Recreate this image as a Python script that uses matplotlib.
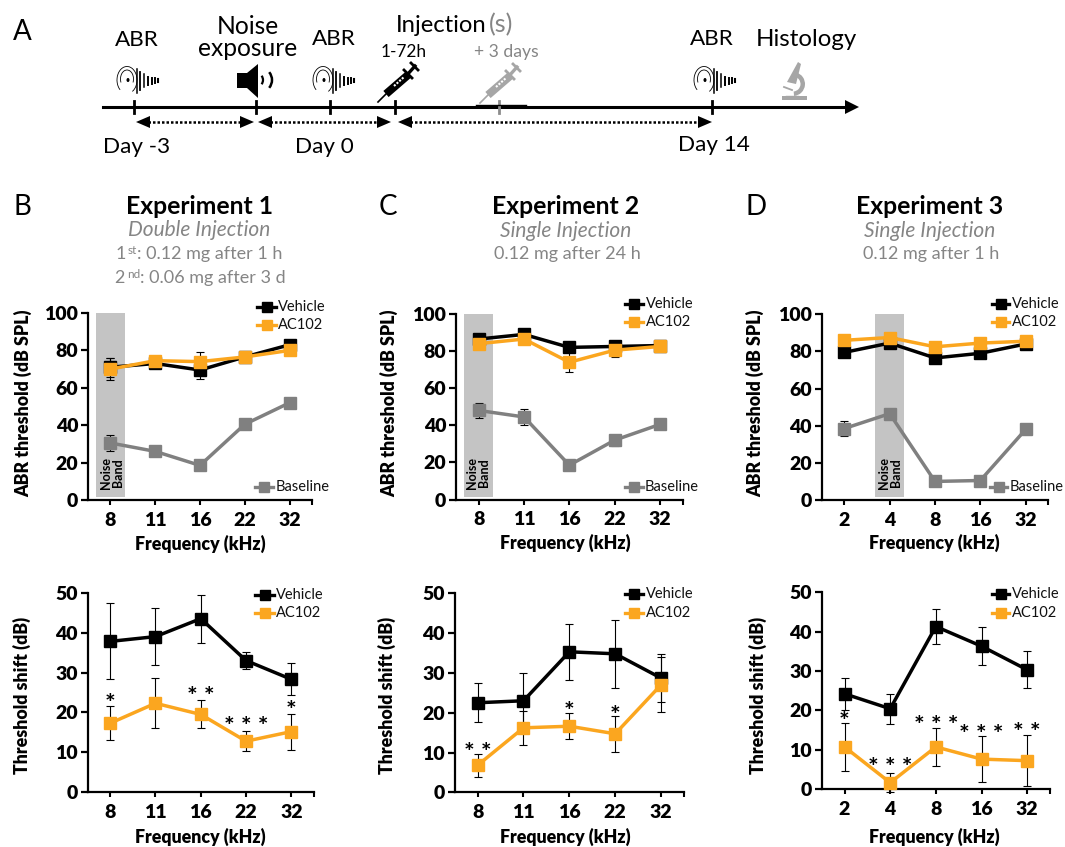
import matplotlib
matplotlib.use("Agg")
import matplotlib.pyplot as plt
from matplotlib.patches import Polygon, Rectangle, Arc, Wedge, Ellipse
from matplotlib.lines import Line2D

plt.rcParams['font.family'] = ['Lato', 'DejaVu Sans']

W, H = 1065, 847
BLACK, ORANGE, GRAY = '#000000', '#FBA61F', '#808080'
TXT_GRAY = '#858585'
HEAVY = 'heavy'

# ------- data -------
freq_a = ['8', '11', '16', '22', '32']
freq_d = ['2', '4', '8', '16', '32']

b_top_vehicle = [71, 73, 69.5, 76.5, 83]
b_top_vehicle_err = [5, 2.5, 5, 1.5, 1.5]
b_top_ac102 = [70, 74.5, 74, 76.5, 80]
b_top_ac102_err = [6, 2.5, 5, 1.5, 1.5]
b_top_base = [30.5, 26, 18.5, 40.5, 52]
b_top_base_err = [4.5, 1.5, 1, 1.5, 2]

c_top_vehicle = [86.5, 89, 82, 82.5, 83]
c_top_vehicle_err = [2, 2, 2.5, 2.5, 1.5]
c_top_ac102 = [84, 86.5, 74, 80.5, 82.5]
c_top_ac102_err = [2.5, 2, 5.5, 3.5, 2]
c_top_base = [48, 44.5, 18.5, 32, 40.5]
c_top_base_err = [4, 4.3, 1, 3, 2]

d_top_vehicle = [79.5, 84.5, 76.5, 79, 84]
d_top_vehicle_err = [2, 1.5, 1.5, 1.5, 1.5]
d_top_ac102 = [86, 87.5, 82.5, 84.5, 85.5]
d_top_ac102_err = [1.5, 1.5, 1.5, 2, 1.5]
d_top_base = [38.5, 46.5, 10, 10.5, 38]
d_top_base_err = [4, 1, 1, 1, 1.5]

b_bot_vehicle = [37.8, 39, 43.5, 33, 28.3]
b_bot_vehicle_err = [9.5, 7.2, 6, 2.1, 4]
b_bot_ac102 = [17.3, 22.3, 19.5, 12.8, 15.2]
b_bot_ac102_err = [4.3, 6.3, 3.5, 2.5, 4.5]
b_stars = [('*', 0, 23.7), ('* *', 2, 25.5), ('* * *', 3, 17.9), ('*', 4, 21.9)]

c_bot_vehicle = [22.5, 23, 35.3, 34.8, 28.7]
c_bot_vehicle_err = [4.9, 7, 7, 8.5, 6.1]
c_bot_ac102 = [6.8, 16.2, 16.6, 14.7, 27]
c_bot_ac102_err = [2.9, 4.2, 3.2, 4.5, 6.9]
c_stars = [('* *', 0, 11.5), ('*', 2, 21.9), ('*', 3, 20.9)]

d_bot_vehicle = [24.2, 20.4, 41.3, 36.3, 30.3]
d_bot_vehicle_err = [4, 3.8, 4.4, 4.8, 4.7]
d_bot_ac102 = [10.7, 1.6, 10.7, 7.6, 7.2]
d_bot_ac102_err = [6.1, 2.4, 4.8, 5.9, 6.4]
d_stars = [('*', 0, 18.6), ('* * *', 1, 7.1), ('* * *', 2, 17.8), ('* * *', 3, 15.5), ('* *', 4, 16)]

fig = plt.figure(figsize=(W / 100, H / 100), dpi=100)

# overlay in pixel coordinates
ov = fig.add_axes([0, 0, 1, 1], zorder=5)
ov.set_xlim(0, W)
ov.set_ylim(H, 0)
ov.axis('off')
ov.patch.set_alpha(0)


def T(x, y, s, size=15, color='black', ha='center', **kw):
    ov.text(x, y, s, fontsize=size, color=color, ha=ha, va='center', **kw)


def panel(left, right, top, bottom, cats, ymax, yticks, series, ylabel, yl_px, xl_px,
          band=None, stars=None):
    ax = fig.add_axes([left / W, 1 - bottom / H, (right - left) / W, (bottom - top) / H])
    ax.set_xlim(-0.5, 4.5)
    ax.set_ylim(0, ymax)
    for s in ('top', 'right'):
        ax.spines[s].set_visible(False)
    for s in ('left', 'bottom'):
        ax.spines[s].set_linewidth(1.6)
    ax.set_xticks(range(5))
    ax.set_xticklabels(cats, fontsize=14, fontweight=HEAVY)
    ax.set_xticks([4.5], minor=True)
    ax.set_yticks(yticks)
    ax.set_yticklabels([str(v) for v in yticks], fontsize=14, fontweight=HEAVY)
    ax.tick_params(axis='x', which='both', length=3.5, width=1.5, pad=5)
    ax.tick_params(axis='y', length=5, width=1.6, pad=2)
    ax.set_ylabel(ylabel, fontsize=12.8, fontweight=HEAVY)
    ax.set_xlabel('Frequency (kHz)', fontsize=12.8, fontweight=HEAVY)
    ax.yaxis.set_label_coords((yl_px[0] - left) / (right - left), (bottom - yl_px[1]) / (bottom - top))
    ax.xaxis.set_label_coords((xl_px[0] - left) / (right - left), (bottom - xl_px[1]) / (bottom - top))
    ax.xaxis.label.set_va('center')
    ax.yaxis.label.set_va('center')
    if band is not None:
        ax.axvspan(band - 0.325, band + 0.325, ymin=0.015, ymax=1, color='#c4c4c4', lw=0, zorder=1)
    for k, (vals, errs, col) in enumerate(series):
        ax.errorbar(range(5), vals, yerr=errs, fmt='none', ecolor='black', elinewidth=0.8,
                    capsize=3, capthick=0.8, zorder=2, clip_on=False)
        ax.plot(range(5), vals, color=col, lw=2.5, marker='s', ms=9, mec=col,
                zorder=3 + k * 0.1, clip_on=False)
    if stars:
        for s, i, y in stars:
            ax.annotate(s, (i, y), xytext=(0, -10.5), textcoords='offset points', ha='center',
                        va='baseline', fontsize=18, fontweight='bold', color='black', zorder=6)
    return ax


def legend_entry(x0, x1, y, color, label, tx):
    ov.add_line(Line2D([x0, x1], [y, y], color=color, lw=2.4))
    ov.add_line(Line2D([(x0 + x1) / 2], [y], color=color, marker='s', ms=7.5, lw=0))
    T(tx, y, label, size=10.5, color='#111111', ha='left')


ABR, TS = 'ABR threshold (dB SPL)', 'Threshold shift (dB)'
t100 = [0, 20, 40, 60, 80, 100]
t50 = [0, 10, 20, 30, 40, 50]

panel(88, 312, 313, 500, freq_a, 100, t100,
      [(b_top_vehicle, b_top_vehicle_err, BLACK), (b_top_ac102, b_top_ac102_err, ORANGE),
       (b_top_base, b_top_base_err, GRAY)], ABR, (23, 403), (200, 544), band=0)
panel(87.5, 314, 592.7, 792.3, freq_a, 50, t50,
      [(b_bot_vehicle, b_bot_vehicle_err, BLACK), (b_bot_ac102, b_bot_ac102_err, ORANGE)],
      TS, (22, 695), (200, 837), stars=b_stars)
panel(456, 682.7, 314, 499.5, freq_a, 100, t100,
      [(c_top_vehicle, c_top_vehicle_err, BLACK), (c_top_ac102, c_top_ac102_err, ORANGE),
       (c_top_base, c_top_base_err, GRAY)], ABR, (389, 403), (565, 543), band=0)
panel(454.7, 684, 593.3, 792.3, freq_a, 50, t50,
      [(c_bot_vehicle, c_bot_vehicle_err, BLACK), (c_bot_ac102, c_bot_ac102_err, ORANGE)],
      TS, (387, 695), (565, 837), stars=c_stars)
panel(821.7, 1048.3, 314.3, 500, freq_d, 100, t100,
      [(d_top_vehicle, d_top_vehicle_err, BLACK), (d_top_ac102, d_top_ac102_err, ORANGE),
       (d_top_base, d_top_base_err, GRAY)], ABR, (755, 403), (934, 543), band=1)
panel(821.7, 1050, 592.3, 789, freq_d, 50, t50,
      [(d_bot_vehicle, d_bot_vehicle_err, BLACK), (d_bot_ac102, d_bot_ac102_err, ORANGE)],
      TS, (758, 695), (934, 837), stars=d_stars)

# legends
for x0, x1, tx, y1, y2 in [(257, 276, 278, 307, 325), (255, 274, 276, 595, 613),
                           (625, 643, 646, 304, 322), (625, 643, 646, 594, 613),
                           (992, 1009, 1012, 304, 322), (992, 1009, 1012, 594, 613)]:
    legend_entry(x0, x1, y1, BLACK, 'Vehicle', tx)
    legend_entry(x0, x1, y2, ORANGE, 'AC102', tx)
for x0, x1, tx in [(255, 273, 276), (625, 643, 645), (990, 1007, 1010)]:
    legend_entry(x0, x1, 487, GRAY, 'Baseline', tx)

# noise band labels
for x in (112, 478, 890):
    T(x, 473, 'Noise\nBand', size=9, rotation=90, fontweight='bold', linespacing=1.05,
      multialignment='center')

# panel letters
for s, x, y in [('A', 22, 32), ('B', 22, 207), ('C', 388, 207), ('D', 756, 207)]:
    T(x, y, s, size=20)

# titles
for x, s in [(199, 'Experiment 1'), (566, 'Experiment 2'), (930, 'Experiment 3')]:
    T(x, 207, s, size=17.8, fontweight='bold')
T(199, 230, 'Double Injection', size=15, color=TXT_GRAY, style='italic')
T(566, 231, 'Single Injection', size=15, color=TXT_GRAY, style='italic')
T(930, 231, 'Single Injection', size=15, color=TXT_GRAY, style='italic')
T(567, 254, '0.12 mg after 24 h', size=13, color=TXT_GRAY)
T(931, 254, '0.12 mg after 1 h', size=13, color=TXT_GRAY)
T(116, 254, '1', size=13, color=TXT_GRAY, ha='left')
T(127.5, 250, 'st', size=8.5, color=TXT_GRAY, ha='left')
T(137, 254, ': 0.12 mg after 1 h', size=13, color=TXT_GRAY, ha='left')
T(114.5, 278, '2', size=13, color=TXT_GRAY, ha='left')
T(127, 274, 'nd', size=8.5, color=TXT_GRAY, ha='left')
T(140, 278, ': 0.06 mg after 3 d', size=13, color=TXT_GRAY, ha='left')

# ------- timeline -------
TL = 107
ov.add_line(Line2D([103, 846], [TL, TL], color='k', lw=2.2))
ov.add_patch(Polygon([[845, 100], [859, TL], [845, 114]], color='k', lw=0))
for x in (134, 256, 330, 395, 712):
    ov.add_line(Line2D([x, x], [TL - 6, TL + 6], color='k', lw=2))
ov.add_line(Line2D([499, 499], [TL - 6, TL + 6], color='#8c8c8c', lw=2))
ov.add_line(Line2D([476, 526], [TL - 1.5, TL - 1.5], color='k', lw=1))

ARW = 122
for a, b in [(136, 254), (258, 391), (398, 712)]:
    ov.add_line(Line2D([a + 12, b - 12], [ARW, ARW], color='k', lw=1.8, ls=(0, (1, 0.8))))
    ov.add_patch(Polygon([[a, ARW], [a + 14, ARW - 6], [a + 14, ARW + 6]], color='k', lw=0))
    ov.add_patch(Polygon([[b, ARW], [b - 14, ARW - 6], [b - 14, ARW + 6]], color='k', lw=0))

T(137, 147, 'Day -3', size=16.2)
T(324, 147, 'Day 0', size=16.2)
T(714, 145, 'Day 14', size=16.2)
T(137, 40, 'ABR', size=16.2)
T(248, 26, 'Noise', size=17.7)
T(248, 48, 'exposure', size=17.7)
T(334, 39, 'ABR', size=16.2)
T(712, 39, 'ABR', size=16.2)
T(806, 39, 'Histology', size=17.3)
T(396, 25, 'Injection', size=17.2, ha='left')
T(489, 25, '(s)', size=18, color=TXT_GRAY, ha='left')
T(404, 52, '1-72h', size=12.4)
T(506, 52, '+ 3 days', size=12.6, color=TXT_GRAY)


def ear(cx, cy):
    ov.add_patch(Arc((cx, cy - 1), 20, 27, theta1=125, theta2=425, color='k', lw=0.6))
    ov.add_patch(Arc((cx, cy - 2), 13, 18, theta1=150, theta2=390, color='k', lw=0.6))
    ov.add_patch(Ellipse((cx + 1, cy - 1), 3, 4, color='k', lw=0))
    for dx, h, lw in [(10, 24, 1.1), (13, 18, 1.3), (17, 13, 1.1), (21, 8, 1.4), (25, 6, 1.4),
                      (28, 5, 1.4), (31, 3, 1.5)]:
        ov.add_line(Line2D([cx + dx, cx + dx], [cy - h / 2, cy + h / 2], color='k', lw=lw))


ear(127, 81)
ear(323, 81)
ear(704, 81)

ov.add_patch(Polygon([[237, 73], [247, 73], [258, 64], [258, 98], [247, 88], [237, 88]],
                     color='k', lw=0))
ov.add_patch(Arc((258, 80), 10, 12, theta1=-50, theta2=50, color='k', lw=1.6))
ov.add_patch(Arc((258, 80), 28, 26, theta1=-35, theta2=35, color='k', lw=1.8))


def syringe(dx, dy, col):
    ov.add_line(Line2D([378 + dx, 388 + dx], [102 + dy, 92 + dy], color=col, lw=1.2))
    ov.add_line(Line2D([386 + dx, 408 + dx], [94 + dy, 75 + dy], color=col, lw=5.8, solid_capstyle='butt'))
    ov.add_line(Line2D([394 + dx, 404 + dx], [86 + dy, 77 + dy], color='white', lw=1.5,
                       ls=(0, (1, 0.7))))
    ov.add_line(Line2D([407 + dx, 415 + dx], [75 + dy, 66 + dy], color=col, lw=2.4))
    ov.add_line(Line2D([404 + dx, 412 + dx], [70 + dy, 78 + dy], color=col, lw=2.0))
    ov.add_line(Line2D([411 + dx, 418 + dx], [63 + dy, 70 + dy], color=col, lw=2.0))


syringe(0, 0, 'k')
syringe(102, 1, '#a6a6a6')

MIC = '#a6a6a6'
ov.add_patch(Rectangle((782, 96.5), 25, 3.5, color=MIC, lw=0))
ov.add_patch(Wedge((793, 84), 12, -75, 85, width=4.5, color=MIC, lw=0))
ov.add_patch(Polygon([[798, 62], [801, 64], [796, 84], [787, 82]], color=MIC, lw=0))
ov.add_line(Line2D([784, 792], [87, 90], color=MIC, lw=1.3))
ov.add_line(Line2D([786, 798], [96, 96], color=MIC, lw=1.0))

fig.savefig('out.png', dpi=100)
